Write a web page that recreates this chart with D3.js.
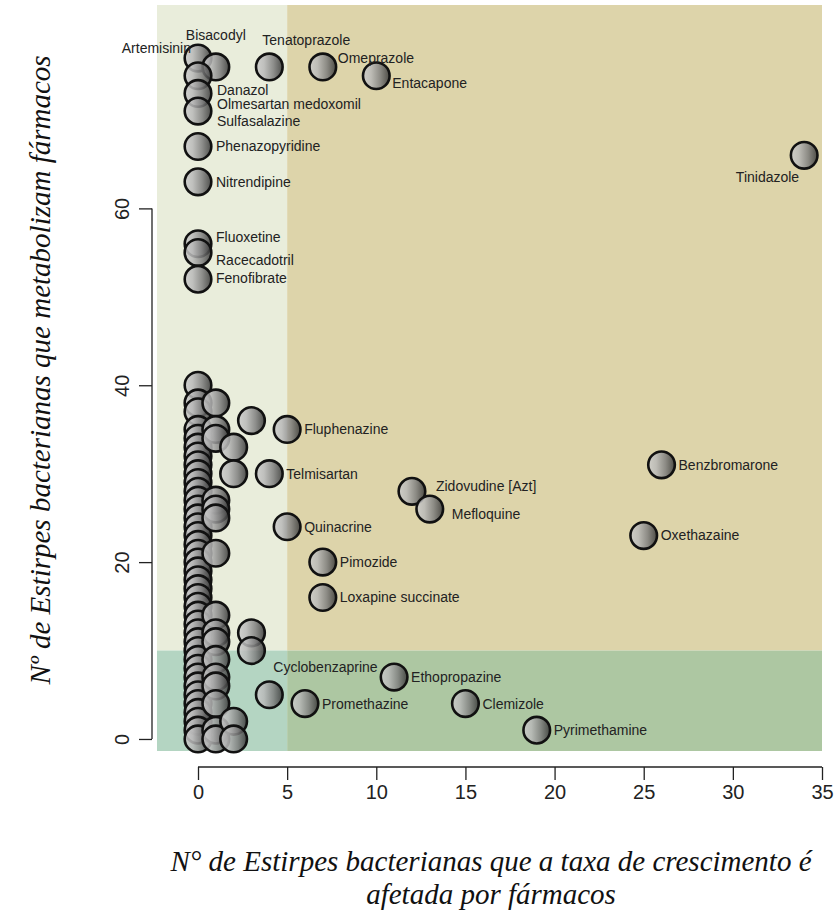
<!DOCTYPE html>
<html>
<head>
<meta charset="utf-8">
<script src="https://cdn.jsdelivr.net/npm/d3@7"></script>
<style>
  html, body { margin: 0; padding: 0; background: #ffffff; }
  svg { display: block; }
</style>
</head>
<body>
<svg id="chart" width="834" height="911"></svg>
<script>
// Drugs with a name label: growth-affected strains (x) and metabolising strains (y)
const labeledNames = [
  "Artemisinin", "Bisacodyl", "Tenatoprazole", "Omeprazole", "Entacapone",
  "Danazol", "Olmesartan medoxomil", "Sulfasalazine", "Phenazopyridine",
  "Nitrendipine", "Tinidazole", "Fluoxetine", "Racecadotril", "Fenofibrate",
  "Fluphenazine", "Telmisartan", "Zidovudine [Azt]", "Mefloquine",
  "Benzbromarone", "Oxethazaine", "Quinacrine", "Pimozide",
  "Loxapine succinate", "Cyclobenzaprine", "Ethopropazine", "Promethazine",
  "Clemizole", "Pyrimethamine"
];
const labeledX = [0, 1, 4, 7, 10, 0, 0, 0, 0, 0, 34, 0, 0, 0, 5, 4, 12, 13, 26, 25, 5, 7, 7, 4, 11, 6, 15, 19];
const labeledY = [77, 76, 76, 76, 75, 75, 73, 71, 67, 63, 66, 56, 55, 52, 35, 30, 28, 26, 31, 23, 24, 20, 16, 5, 7, 4, 4, 1];

// Unlabelled drugs, grouped by growth-affected count
const otherX = [
  0, 0, 0, 0, 0, 0, 0, 0, 0, 0, 0, 0, 0, 0, 0, 0, 0, 0, 0, 0,
  0, 0, 0, 0, 0, 0, 0, 0, 0, 0, 0, 0, 0, 0, 0, 0, 0, 0, 0,
  1, 1, 1, 1, 1, 1, 1, 1, 1, 1, 1, 1, 1, 1, 1, 1,
  2, 2, 2, 2,
  3, 3, 3
];
const otherY = [
  40, 38, 37, 35, 34, 33, 32, 31, 30, 29, 28, 27, 26, 25, 24, 23, 22, 21, 20, 19,
  18, 17, 16, 15, 14, 13, 12, 11, 10, 9, 8, 7, 6, 5, 4, 3, 2, 1, 0,
  38, 35, 34, 27, 26, 25, 21, 14, 12, 11, 9, 7, 6, 4, 1, 0,
  33, 30, 2, 0,
  36, 12, 10
];

const xTicks = [0, 5, 10, 15, 20, 25, 30, 35];
const yTicks = [0, 20, 40, 60];
const xCut = 5;   // growth threshold
const yCut = 10;  // metabolism threshold

const xTitleLines = ["N° de Estirpes bacterianas que a taxa de crescimento é", "afetada por fármacos"];
const yTitle = "Nº de Estirpes bacterianas que metabolizam fármacos";

// Label placement around each marker (pixels), layout only
const labelPlace = {
  "Artemisinin":          { dx: -7,  dy: -10, anchor: "end" },
  "Bisacodyl":            { dx: 0,   dy: -32, anchor: "middle" },
  "Tenatoprazole":        { dx: -7,  dy: -27, anchor: "start" },
  "Omeprazole":           { dx: 15,  dy: -9,  anchor: "start" },
  "Entacapone":           { dx: 16,  dy: 7,   anchor: "start" },
  "Danazol":              { dx: 19,  dy: 14,  anchor: "start" },
  "Olmesartan medoxomil": { dx: 19,  dy: 11,  anchor: "start" },
  "Sulfasalazine":        { dx: 19,  dy: 10,  anchor: "start" },
  "Phenazopyridine":      { dx: 18,  dy: 0,   anchor: "start" },
  "Nitrendipine":         { dx: 18,  dy: 0,   anchor: "start" },
  "Tinidazole":           { dx: -5,  dy: 22,  anchor: "end" },
  "Fluoxetine":           { dx: 18,  dy: -7,  anchor: "start" },
  "Racecadotril":         { dx: 18,  dy: 7,   anchor: "start" },
  "Fenofibrate":          { dx: 18,  dy: -1,  anchor: "start" },
  "Zidovudine [Azt]":     { dx: 24,  dy: -5,  anchor: "start" },
  "Mefloquine":           { dx: 22,  dy: 5,   anchor: "start" },
  "Cyclobenzaprine":      { dx: 4,   dy: -28, anchor: "start" }
};
const defaultPlace = { dx: 17, dy: 0, anchor: "start" };

const svg = d3.select("#chart");

const x = d3.scaleLinear().domain([-2.3, 35]).range([157, 822]);
const y = d3.scaleLinear().domain([-1.36, 83]).range([751, 5]);

const [xMin, xMax] = x.domain();
const [yMin, yMax] = y.domain();

// Quadrant backgrounds
const quads = [
  { x0: xMin, x1: xCut, y0: yCut, y1: yMax, fill: "#e9eddb" },
  { x0: xCut, x1: xMax, y0: yCut, y1: yMax, fill: "#ddd4aa" },
  { x0: xMin, x1: xCut, y0: yMin, y1: yCut, fill: "#b4d5c2" },
  { x0: xCut, x1: xMax, y0: yMin, y1: yCut, fill: "#adc7a2" }
];
svg.append("g").selectAll("rect").data(quads).join("rect")
  .attr("x", d => x(d.x0))
  .attr("y", d => y(d.y1))
  .attr("width", d => x(d.x1) - x(d.x0))
  .attr("height", d => y(d.y0) - y(d.y1))
  .attr("fill", d => d.fill);

// Marker shading
const defs = svg.append("defs");
const grad = defs.append("linearGradient")
  .attr("id", "ball").attr("x1", "0").attr("y1", "0").attr("x2", "1").attr("y2", "0");
[[0, "#cdcdcd"], [0.3, "#b8b8b8"], [0.65, "#7e7e7e"], [1, "#353535"]].forEach(([o, c]) =>
  grad.append("stop").attr("offset", o).attr("stop-color", c));

// Axes
const axisFont = "'Liberation Sans', Arial, sans-serif";
const xAxis = svg.append("g")
  .attr("transform", "translate(0,767)")
  .call(d3.axisBottom(x).tickValues(xTicks).tickSize(13).tickSizeOuter(0).tickPadding(5));
xAxis.select(".domain").remove();
xAxis.append("line")
  .attr("x1", x(xTicks[0])).attr("x2", x(xTicks[xTicks.length - 1]))
  .attr("stroke", "#222").attr("stroke-width", 1.3);
xAxis.selectAll(".tick line").attr("stroke", "#222").attr("stroke-width", 1.3);
xAxis.selectAll(".tick text")
  .attr("font-family", axisFont).attr("font-size", 20).attr("fill", "#222");

const yAxis = svg.append("g")
  .attr("transform", "translate(152,0)")
  .call(d3.axisLeft(y).tickValues(yTicks).tickSize(13).tickSizeOuter(0).tickFormat(d3.format("d")));
yAxis.select(".domain").remove();
yAxis.append("line")
  .attr("y1", y(yTicks[0])).attr("y2", y(yTicks[yTicks.length - 1]))
  .attr("stroke", "#222").attr("stroke-width", 1.3);
yAxis.selectAll(".tick line").attr("stroke", "#222").attr("stroke-width", 1.3);
yAxis.selectAll(".tick text")
  .attr("font-family", axisFont).attr("font-size", 20).attr("fill", "#222")
  .attr("text-anchor", "middle")
  .attr("x", null).attr("dy", null)
  .attr("transform", "translate(-23,0) rotate(-90)");

// Points
const others = otherX.map((v, i) => ({ x: v, y: otherY[i] }));
const labeled = labeledNames.map((n, i) => ({ name: n, x: labeledX[i], y: labeledY[i] }));

const pts = svg.append("g");
pts.selectAll("circle.o").data(others).join("circle")
  .attr("class", "o")
  .attr("cx", d => x(d.x)).attr("cy", d => y(d.y)).attr("r", 13.3)
  .attr("fill", "url(#ball)").attr("fill-opacity", 0.85)
  .attr("stroke", "#111").attr("stroke-width", 2.6);
pts.selectAll("circle.l").data(labeled).join("circle")
  .attr("class", "l")
  .attr("cx", d => x(d.x)).attr("cy", d => y(d.y)).attr("r", 13.3)
  .attr("fill", "url(#ball)").attr("fill-opacity", 0.85)
  .attr("stroke", "#111").attr("stroke-width", 2.6);

// Drug names
svg.append("g").selectAll("text").data(labeled).join("text")
  .attr("x", d => x(d.x) + (labelPlace[d.name] || defaultPlace).dx)
  .attr("y", d => y(d.y) + (labelPlace[d.name] || defaultPlace).dy)
  .attr("dy", "0.35em")
  .attr("text-anchor", d => (labelPlace[d.name] || defaultPlace).anchor)
  .attr("font-family", axisFont).attr("font-size", 14).attr("fill", "#222")
  .text(d => d.name);

// Axis titles
const titleFont = "'Liberation Serif', 'Times New Roman', serif";
svg.append("text")
  .attr("transform", "translate(50,370) rotate(-90)")
  .attr("text-anchor", "middle")
  .attr("font-family", titleFont).attr("font-style", "italic")
  .attr("font-size", 29).attr("fill", "#111")
  .text(yTitle);
svg.append("g").selectAll("text").data(xTitleLines).join("text")
  .attr("x", 491).attr("y", (d, i) => 871 + i * 33)
  .attr("text-anchor", "middle")
  .attr("font-family", titleFont).attr("font-style", "italic")
  .attr("font-size", 29).attr("fill", "#111")
  .text(d => d);
</script>
</body>
</html>
